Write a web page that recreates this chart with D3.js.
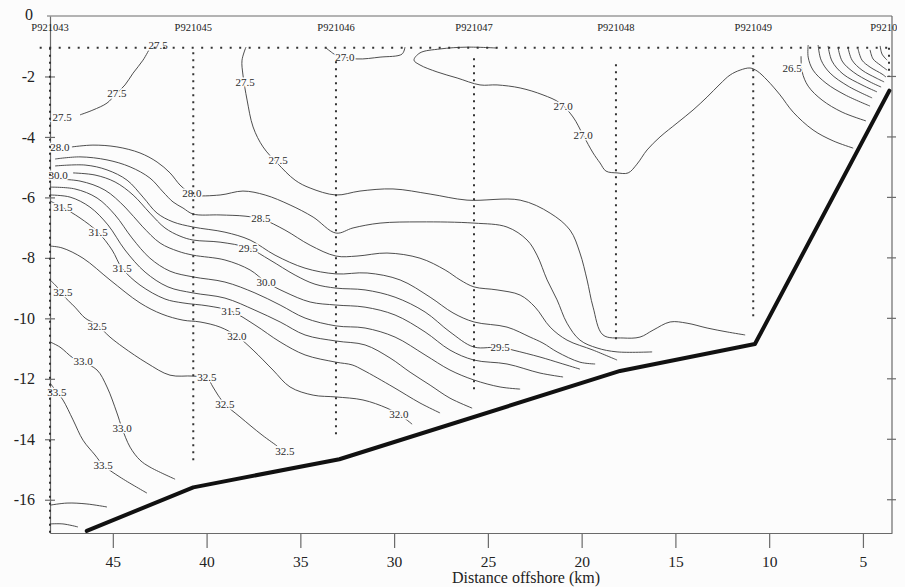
<!DOCTYPE html>
<html>
<head>
<meta charset="utf-8">
<script src="https://cdn.jsdelivr.net/npm/d3@7"></script>
<style>
  html, body { margin: 0; padding: 0; background: #fcfcfc; }
  svg { display: block; }
  svg text { font-family: "Liberation Serif", "Times New Roman", serif; }
</style>
</head>
<body>
<svg id="chart" width="905" height="587"></svg>
<script>
// ---- axis ticks ----
const xTicks = [45, 40, 35, 30, 25, 20, 15, 10, 5];
const yTicks = [0, -2, -4, -6, -8, -10, -12, -14, -16];

// ---- CTD stations: distance offshore (km), first and last sample depth (m) ----
const stationNames  = ["P921043", "P921045", "P921046", "P921047", "P921048", "P921049", "P921050"];
const stationKm     = [48.35, 40.71, 33.10, 25.74, 18.17, 10.85, 3.61];
const stationTop    = [-1.05, -1.2, -1.5, -1.4, -1.6, -1.3, -1.05];
const stationBottom = [-17.1, -14.8, -14.0, -12.5, -10.8, -10.0, -2.0];
const surfaceSampleDepth = -1.05;

// ---- sea floor along the section [km, depth] ----
const seafloor = [[46.39, -17.03], [40.71, -15.59], [32.92, -14.66], [17.95, -11.74], [10.76, -10.85], [3.59, -2.47]];

// ---- salinity isolines [km, depth] ----
const c275a = [[43.02,-1.06],[43.39,-1.46],[43.92,-1.89],[44.35,-2.28],[44.88,-2.61],[45.31,-2.88],[46.06,-3.11],[46.75,-3.27]];
const c275b = [[37.90,-1.03],[38.11,-1.46],[38.06,-1.95],[37.84,-2.78],[37.52,-3.67],[36.99,-4.33],[36.24,-4.86],[35.28,-5.43],[34.48,-5.69],[33.10,-5.92],[31.82,-5.79],[30.06,-5.72],[28.08,-5.89],[26.11,-6.09],[23.28,-6.09],[21.68,-6.52],[20.62,-7.08],[20.09,-7.84],[19.71,-8.73],[19.39,-9.63],[18.86,-10.55],[17.79,-10.65],[16.89,-10.62],[16.19,-10.39],[15.28,-10.12],[14.38,-10.16],[13.31,-10.32],[12.24,-10.45],[11.28,-10.55]];
const c270a = [[33.68,-1.03],[33.42,-1.16],[33.10,-1.29],[31.98,-1.42],[30.75,-1.36],[29.58,-1.26],[29.42,-1.03]];
const c270b = [[24.51,-1.06],[26.11,-1.03],[27.55,-1.09],[28.62,-1.22],[28.94,-1.46],[28.62,-1.62],[27.71,-1.85],[26.64,-2.05],[25.42,-2.28],[24.51,-2.28],[23.28,-2.38],[22.06,-2.61],[21.15,-2.88],[20.46,-3.34],[19.92,-3.94],[19.39,-4.53],[19.02,-4.86],[18.70,-5.13],[18.11,-5.19],[17.52,-5.19],[17.05,-4.90],[16.51,-4.43],[15.82,-4.00],[14.91,-3.54],[14.06,-3.11],[13.31,-2.68],[12.62,-2.25],[12.08,-1.95],[11.55,-1.79],[11.02,-1.72],[10.64,-1.82],[10.11,-2.12],[9.42,-2.61],[8.72,-3.18],[7.66,-3.77],[6.59,-4.13],[5.52,-4.37]];
const c265 = [[8.30,-1.33],[8.24,-1.85],[7.92,-2.32],[7.18,-2.78],[6.11,-3.18],[4.84,-3.47]];
const c260 = [[7.92,-0.96],[7.92,-1.36],[7.66,-1.79],[6.97,-2.22],[5.95,-2.61],[4.62,-2.98]];
const c255 = [[7.39,-0.96],[7.23,-1.46],[6.75,-1.89],[5.79,-2.32],[4.51,-2.71]];
const c250 = [[6.86,-0.99],[6.65,-1.49],[6.06,-1.92],[5.05,-2.28],[4.25,-2.51]];
const c245 = [[6.33,-1.03],[6.11,-1.49],[5.52,-1.85],[4.62,-2.18],[4.03,-2.35]];
const c240 = [[5.79,-1.06],[5.58,-1.46],[5.05,-1.79],[4.30,-2.05],[3.87,-2.18]];
const c235 = [[5.26,-1.09],[5.05,-1.46],[4.62,-1.69],[3.98,-1.92],[3.77,-2.02]];
const c230 = [[4.62,-1.12],[4.46,-1.42],[4.08,-1.62],[3.71,-1.79]];
const c225 = [[4.08,-0.99],[3.98,-1.26],[3.71,-1.46]];
const c280 = [[47.18,-4.33],[46.06,-4.27],[44.78,-4.33],[43.55,-4.53],[42.64,-4.83],[41.95,-5.19],[41.42,-5.59],[41.04,-5.79],[40.72,-5.92],[39.28,-5.92],[38.06,-5.79],[36.88,-5.92],[35.55,-6.25],[34.32,-6.65],[33.10,-7.18],[32.19,-7.01],[30.75,-6.85],[28.62,-6.81],[25.74,-6.85],[23.98,-6.98],[22.91,-7.41],[22.38,-7.91],[21.84,-8.73],[21.31,-9.39],[20.78,-10.16],[20.09,-10.72],[19.18,-10.98],[18.11,-11.11],[16.24,-11.11]];
const c285 = [[48.08,-4.73],[46.75,-4.66],[45.31,-4.76],[44.08,-4.99],[43.02,-5.36],[42.32,-5.82],[41.79,-6.15],[41.26,-6.35],[40.72,-6.55],[39.28,-6.58],[37.95,-6.62],[37.04,-6.72],[35.82,-7.08],[34.48,-7.58],[33.10,-7.94],[31.98,-7.94],[30.38,-7.84],[28.62,-8.01],[27.28,-8.40],[26.48,-8.73],[25.74,-8.96],[24.51,-9.06],[23.28,-9.23],[22.48,-9.63],[21.68,-10.29],[20.78,-10.72],[19.39,-11.05],[18.11,-11.38]];
const c290 = [[48.08,-4.96],[46.48,-4.93],[45.31,-5.09],[44.24,-5.43],[43.39,-5.99],[42.64,-6.52],[41.79,-6.81],[40.72,-6.98],[39.02,-7.15],[37.68,-7.41],[36.35,-7.91],[34.75,-8.34],[33.10,-8.53],[31.44,-8.50],[29.68,-8.73],[28.08,-9.30],[26.86,-9.82],[25.74,-10.12],[23.98,-10.29],[22.75,-10.62],[22.06,-10.82],[21.31,-11.11],[20.09,-11.45],[19.28,-11.51]];
const c295 = [[47.12,-5.19],[45.95,-5.26],[44.88,-5.49],[43.92,-5.92],[43.02,-6.52],[42.22,-7.01],[41.42,-7.28],[40.72,-7.41],[39.28,-7.48],[37.79,-7.67],[36.62,-8.07],[35.28,-8.57],[34.22,-8.87],[33.10,-9.00],[31.55,-9.06],[29.95,-9.30],[28.35,-9.79],[27.02,-10.45],[25.74,-10.95],[24.35,-10.95],[23.66,-11.05],[22.22,-11.28],[21.15,-11.48],[20.09,-11.68]];
const c300 = [[48.35,-5.39],[46.75,-5.46],[45.42,-5.76],[44.35,-6.32],[43.44,-6.95],[42.48,-7.51],[41.52,-7.78],[40.72,-7.91],[39.02,-8.07],[37.68,-8.40],[36.83,-8.80],[35.82,-9.13],[34.48,-9.46],[33.10,-9.56],[31.55,-9.63],[29.95,-9.89],[28.35,-10.45],[27.02,-11.05],[25.74,-11.38],[23.98,-11.51],[22.22,-11.81],[20.99,-11.94]];
const c305 = [[48.35,-5.66],[47.02,-5.72],[45.84,-6.02],[44.88,-6.58],[43.98,-7.34],[43.02,-8.01],[41.95,-8.44],[40.72,-8.63],[39.02,-8.80],[37.42,-9.16],[36.08,-9.56],[34.75,-9.99],[33.10,-10.25],[31.55,-10.32],[29.95,-10.62],[28.35,-11.21],[27.02,-11.71],[25.74,-12.04],[24.35,-12.27],[23.28,-12.34]];
const c310 = [[48.35,-5.92],[47.28,-5.99],[46.22,-6.32],[45.26,-6.91],[44.35,-7.74],[43.28,-8.47],[42.06,-8.96],[40.72,-9.16],[39.02,-9.33],[37.42,-9.73],[36.08,-10.12],[34.75,-10.55],[33.10,-10.75],[31.55,-10.88],[30.22,-11.31],[29.15,-11.78],[28.08,-12.21],[27.02,-12.64],[25.84,-12.97]];
const c315 = [[48.35,-6.12],[47.71,-6.32],[46.75,-6.68],[45.79,-7.15],[45.04,-7.74],[44.51,-8.34],[43.55,-8.90],[42.22,-9.36],[41.26,-9.49],[39.92,-9.59],[38.70,-9.76],[37.42,-10.22],[36.08,-10.78],[34.75,-11.21],[33.10,-11.45],[32.24,-11.54],[31.66,-11.71],[30.06,-12.27],[28.62,-12.80],[27.55,-13.13]];
const c320 = [[48.35,-7.61],[47.71,-7.67],[46.59,-8.01],[45.15,-8.73],[43.55,-9.49],[42.38,-9.86],[41.26,-10.06],[40.35,-10.12],[39.28,-10.29],[38.38,-10.59],[37.52,-11.05],[36.46,-11.71],[35.55,-12.27],[34.32,-12.54],[33.10,-12.60],[31.66,-12.70],[30.38,-12.97],[29.68,-13.20],[29.04,-13.50]];
const c325 = [[48.35,-8.73],[47.98,-8.96],[47.66,-9.23],[47.02,-9.63],[46.48,-9.99],[45.84,-10.22],[45.15,-10.62],[44.46,-10.95],[43.18,-11.48],[41.95,-11.88],[40.72,-11.91],[39.98,-11.98],[39.66,-12.27],[39.39,-12.54],[39.02,-12.84],[38.22,-13.26],[37.04,-13.86],[36.24,-14.22]];
const c330 = [[48.35,-10.78],[47.82,-10.95],[47.12,-11.31],[46.59,-11.45],[45.84,-11.71],[45.31,-12.27],[44.78,-13.13],[44.51,-13.63],[44.08,-14.26],[43.55,-14.69],[43.02,-14.92],[41.68,-15.32]];
const c335 = [[48.35,-12.14],[47.98,-12.44],[47.66,-12.70],[47.12,-13.36],[46.59,-14.03],[45.95,-14.52],[45.52,-14.85],[44.62,-15.25],[43.18,-15.78]];
const c340a = [[48.35,-16.18],[47.44,-16.11],[46.38,-16.14],[45.31,-16.24]];
const c340b = [[48.35,-16.80],[47.66,-16.80],[46.86,-16.90]];

const contourLines = [
  c275a, c275b, c270a, c270b, c265, c260, c255, c250, c245, c240, c235, c230, c225,
  c280, c285, c290, c295, c300, c305, c310, c315, c320, c325, c330, c335, c340a, c340b
];

// ---- isoline labels: [text, km, depth] ----
const labelText  = ["27.5","27.5","27.5","27.5","27.5","27.0","27.0","27.0","26.5","28.0","28.0","28.5","30.0","29.5","29.5","30.0","31.5","31.5","31.5","31.5","32.0","32.0","32.5","32.5","32.5","32.5","32.5","33.0","33.0","33.5","33.5"];
const labelKm    = [42.59,44.78,47.71,37.95,36.19,32.62,20.99,19.92,8.78,47.82,40.78,37.10,47.92,37.79,24.35,36.83,47.66,45.79,44.51,38.70,38.38,29.74,47.66,45.84,39.98,39.02,35.82,46.59,44.51,47.98,45.52];
const labelDepth = [-0.96,-2.55,-3.34,-2.18,-4.76,-1.36,-2.98,-3.94,-1.72,-4.33,-5.86,-6.68,-5.26,-7.67,-10.95,-8.80,-6.32,-7.15,-8.34,-9.76,-10.59,-13.17,-9.13,-10.25,-11.94,-12.84,-14.39,-11.41,-13.63,-12.44,-14.85];

// ---- scales ----
const svg = d3.select("#chart");
const x = d3.scaleLinear().domain([48.35, 3.45]).range([50, 892]);
const y = d3.scaleLinear().domain([0, -17.1]).range([16, 533]);
const frameColor = "#6a6a6a";
const bg = "#fcfcfc";

// ---- frame ----
const frame = svg.append("g");
frame.append("line").attr("x1", x.range()[0] - 3).attr("x2", x.range()[1])
  .attr("y1", y(0)).attr("y2", y(0)).attr("stroke", frameColor).attr("stroke-width", 1.2);
frame.append("line").attr("x1", x.range()[1]).attr("x2", x.range()[1])
  .attr("y1", y(0)).attr("y2", y.range()[1]).attr("stroke", frameColor).attr("stroke-width", 1.2);

// bottom axis: distance offshore
const xAxis = svg.append("g").attr("transform", `translate(0,${y.range()[1]})`)
  .call(d3.axisBottom(x).tickValues(xTicks).tickSize(15).tickPadding(8).tickSizeOuter(0));
xAxis.select(".domain").attr("stroke", frameColor).attr("stroke-width", 1.2);
xAxis.selectAll(".tick line").attr("stroke", frameColor).attr("stroke-width", 1.2);
xAxis.selectAll(".tick text").attr("font-size", 15.5).attr("fill", "#222");

// left axis: depth, ticks cross the axis line
const yAxis = svg.append("g").attr("transform", `translate(${x.range()[0]},0)`)
  .call(d3.axisLeft(y).tickValues(yTicks).tickSize(5).tickPadding(10).tickSizeOuter(0)
    .tickFormat(d => String(d)));
yAxis.select(".domain").attr("stroke", frameColor).attr("stroke-width", 1.2);
yAxis.selectAll(".tick line").attr("x1", 5).attr("x2", -5).attr("stroke", frameColor).attr("stroke-width", 1.2);
yAxis.selectAll(".tick text").attr("font-size", 16).attr("fill", "#222")
  .filter(d => d === 0).attr("x", -17).attr("dy", "0.2em");
yAxis.selectAll(".tick").filter(d => d === 0).select("line").remove();

// right axis ticks
svg.append("g").selectAll("line").data(yTicks.filter(d => d !== 0)).join("line")
  .attr("x1", x.range()[1] - 5).attr("x2", x.range()[1] + 4)
  .attr("y1", d => y(d)).attr("y2", d => y(d))
  .attr("stroke", frameColor).attr("stroke-width", 1.2);

// axis title
svg.append("text").attr("x", 526).attr("y", 583).attr("text-anchor", "middle")
  .attr("font-size", 16).attr("fill", "#222").text("Distance offshore (km)");

// ---- isolines ----
const line = d3.line().x(d => x(d[0])).y(d => y(d[1])).curve(d3.curveCatmullRom.alpha(0.5));
svg.append("g").selectAll("path").data(contourLines).join("path")
  .attr("d", line).attr("fill", "none").attr("stroke", "#3a3a3a").attr("stroke-width", 0.9);

// ---- isoline labels ----
svg.append("g").selectAll("text").data(labelText).join("text")
  .attr("x", (d, i) => x(labelKm[i])).attr("y", (d, i) => y(labelDepth[i]))
  .attr("dy", "0.35em").attr("text-anchor", "middle")
  .attr("font-size", 11).attr("fill", "#2a2a2a")
  .attr("stroke", bg).attr("stroke-width", 3).attr("paint-order", "stroke")
  .text(d => d);

// ---- surface sample row ----
svg.append("line")
  .attr("x1", x(48.9)).attr("x2", x.range()[1])
  .attr("y1", y(surfaceSampleDepth)).attr("y2", y(surfaceSampleDepth))
  .attr("stroke", "#333").attr("stroke-width", 2).attr("stroke-dasharray", "2,7.5");

// ---- station sample columns ----
svg.append("g").selectAll("line").data(stationNames).join("line")
  .attr("x1", (d, i) => x(stationKm[i])).attr("x2", (d, i) => x(stationKm[i]))
  .attr("y1", (d, i) => y(stationTop[i])).attr("y2", (d, i) => y(stationBottom[i]))
  .attr("stroke", "#333").attr("stroke-width", 2).attr("stroke-dasharray", "2,5");

// station names (the last one runs off the page edge)
const clip = svg.append("defs").append("clipPath").attr("id", "pageClip");
clip.append("rect").attr("x", 0).attr("y", 0).attr("width", 897).attr("height", 587);
svg.append("g").attr("clip-path", "url(#pageClip)").selectAll("text").data(stationNames).join("text")
  .attr("x", (d, i) => x(stationKm[i])).attr("y", y(-0.48))
  .attr("text-anchor", "middle").attr("font-size", 10.5).attr("fill", "#222")
  .text(d => d);

// ---- sea floor ----
svg.append("path").datum(seafloor)
  .attr("d", d3.line().x(d => x(d[0])).y(d => y(d[1])))
  .attr("fill", "none").attr("stroke", "#111").attr("stroke-width", 4)
  .attr("stroke-linejoin", "round").attr("stroke-linecap", "round");
</script>
</body>
</html>
